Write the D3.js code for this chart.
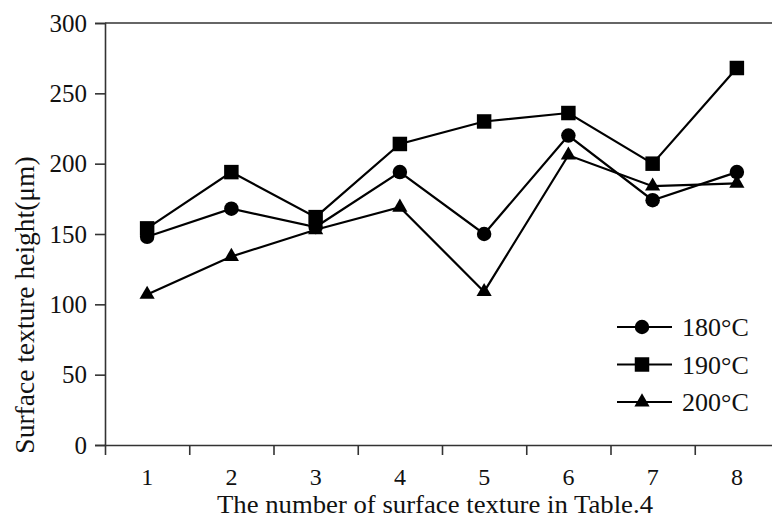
<!DOCTYPE html>
<html>
<head>
<meta charset="utf-8">
<script src="https://cdn.jsdelivr.net/npm/d3@7"></script>
<style>
  body { margin: 0; background: #fff; }
  svg text { font-family: "Liberation Serif", "Times New Roman", serif; fill: #111; }
</style>
</head>
<body>
<div class="chart"></div>
<script>
// data
const categories = [1, 2, 3, 4, 5, 6, 7, 8];
const seriesNames = ["180°C", "190°C", "200°C"];
const t180 = [148, 168, 155, 194, 150, 220, 174, 194];
const t190 = [154, 194, 162, 214, 230, 236, 200, 268];
const t200 = [107, 134, 153, 169, 109, 206, 184, 186];
const yTicks = [0, 50, 100, 150, 200, 250, 300];

let width = 772;
let height = 518;
let plotLeft = 105, plotTop = 23, plotBottom = 445;

let series = [
  { name: seriesNames[0], values: t180, symbol: d3.symbolCircle, size: 165 },
  { name: seriesNames[1], values: t190, symbol: d3.symbolSquare, size: 210 },
  { name: seriesNames[2], values: t200, symbol: d3.symbolTriangle, size: 100 }
];

let x = d3.scaleLinear().domain([0.5, 8.5]).range([plotLeft, 779]);
let y = d3.scaleLinear().domain([0, 300]).range([plotBottom, plotTop]);

let graph = d3.select(".chart")
  .append("svg")
  .attr("width", width)
  .attr("height", height);

// frame (top line; right side falls off the picture)
graph.append("line")
  .attr("x1", plotLeft).attr("x2", width)
  .attr("y1", y(300)).attr("y2", y(300))
  .attr("stroke", "#333").attr("stroke-width", 1.6);

// y axis
let yAxis = g => g
  .attr("transform", `translate(${plotLeft},0)`)
  .call(d3.axisLeft(y).tickValues(yTicks).tickSize(10).tickPadding(8))
  .call(g => g.selectAll("path, line").attr("stroke", "#333").attr("stroke-width", 1.6))
  .call(g => g.selectAll("text").attr("font-size", 25).attr("font-family", null));
graph.append("g").call(yAxis);

// x axis: ticks between categories, labels at categories
let xAxis = g => g
  .attr("transform", `translate(0,${plotBottom})`)
  .call(d3.axisBottom(x).tickValues(d3.range(1.5, 8.5, 1)).tickSize(10).tickFormat(""))
  .call(g => g.selectAll("path, line").attr("stroke", "#333").attr("stroke-width", 1.6));
graph.append("g").call(xAxis);

graph.append("g")
  .selectAll("text")
  .data(categories)
  .enter()
  .append("text")
  .attr("x", d => x(d))
  .attr("y", 485)
  .attr("text-anchor", "middle")
  .attr("font-size", 24)
  .text(d => d);

// axis titles
graph.append("text")
  .attr("x", 217)
  .attr("y", 513)
  .attr("font-size", 25)
  .attr("textLength", 436)
  .attr("lengthAdjust", "spacingAndGlyphs")
  .text("The number of surface texture in Table.4");

graph.append("text")
  .attr("transform", `translate(34,305) rotate(-90)`)
  .attr("text-anchor", "middle")
  .attr("font-size", 27.5)
  .text("Surface texture height(μm)");

// lines and markers
let line = d3.line()
  .x((d, i) => x(categories[i]))
  .y(d => y(d));

let groups = graph.append("g")
  .selectAll("g")
  .data(series)
  .enter()
  .append("g");

groups.append("path")
  .attr("d", d => line(d.values))
  .attr("fill", "none")
  .attr("stroke", "#000")
  .attr("stroke-width", 2.2);

groups.each(function(s) {
  d3.select(this)
    .selectAll(".mark")
    .data(s.values)
    .enter()
    .append("path")
    .attr("class", "mark")
    .attr("transform", (d, i) => `translate(${x(categories[i])},${y(d)})`)
    .attr("d", d3.symbol().type(s.symbol).size(s.size))
    .attr("fill", "#000");
});

// legend
let legend = graph.append("g")
  .selectAll("g")
  .data(series)
  .enter()
  .append("g")
  .attr("transform", (d, i) => `translate(617,${327 + i * 37.5})`);

legend.append("line")
  .attr("x1", 0).attr("x2", 55)
  .attr("stroke", "#000").attr("stroke-width", 2.2);

legend.append("path")
  .attr("transform", "translate(25,0)")
  .attr("d", d => d3.symbol().type(d.symbol).size(d.size)())
  .attr("fill", "#000");

legend.append("text")
  .attr("x", 65)
  .attr("y", 9)
  .attr("font-size", 26)
  .text(d => d.name);
</script>
</body>
</html>
